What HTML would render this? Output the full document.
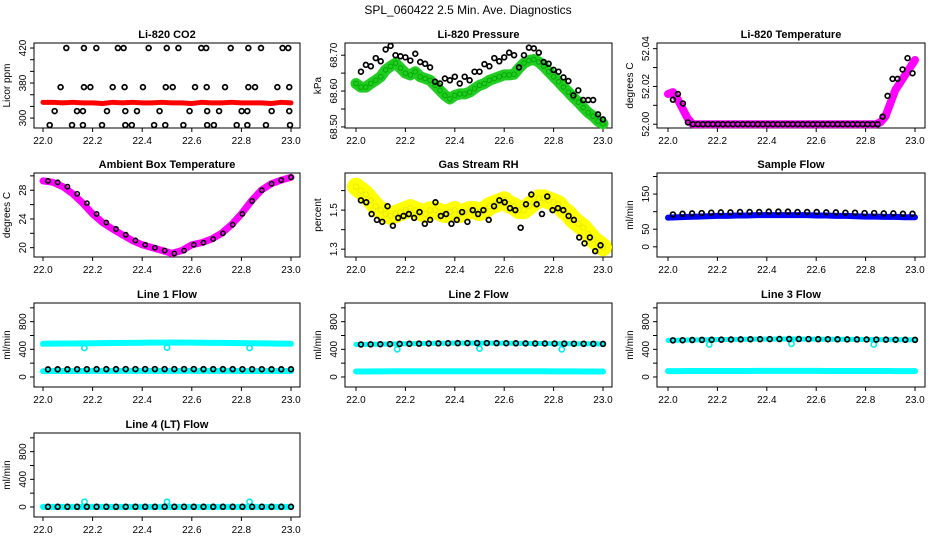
<!DOCTYPE html>
<html><head><meta charset="utf-8"><style>
body{margin:0;background:#fff}
svg{display:block;font-family:"Liberation Sans",sans-serif}
</style></head><body>
<svg id="c" width="936" height="540" viewBox="0 0 936 540">
<text x="468" y="14" text-anchor="middle" font-size="12">SPL_060422  2.5 Min. Ave. Diagnostics</text>
</svg>
<script>
// ---- data ----
const xTicks = [22.0,22.2,22.4,22.6,22.8,23.0];
const xTickLabels = ["22.0","22.2","22.4","22.6","22.8","23.0"];

const co2Times = [22.027,22.047,22.071,22.094,22.117,22.137,22.161,22.161,22.165,22.165,22.191,22.215,22.238,22.258,22.281,22.302,22.325,22.329,22.332,22.332,22.358,22.379,22.403,22.426,22.448,22.470,22.493,22.495,22.499,22.523,22.546,22.566,22.591,22.613,22.638,22.658,22.660,22.662,22.662,22.689,22.710,22.734,22.757,22.781,22.801,22.824,22.824,22.828,22.828,22.855,22.879,22.899,22.922,22.945,22.966,22.989,22.993,22.993,22.996];
const co2Black = [288,312,353,420,288,312,312,288,420,353,353,420,288,312,353,420,420,353,312,288,288,312,353,420,288,312,288,353,420,353,420,288,312,353,420,420,353,312,288,288,312,353,420,288,312,312,288,420,353,353,420,288,312,353,420,420,353,312,288];
const co2Red = [327,327,326,327,326,326,325,327,326,327,326,326,327,326,326,325,327,326,326,327,326,326,326,325,327,326];

const presGreen = [68.621,68.611,68.611,68.621,68.630,68.640,68.659,68.669,68.678,68.664,68.650,68.645,68.654,68.640,68.635,68.630,68.616,68.602,68.588,68.578,68.588,68.592,68.592,68.597,68.607,68.616,68.621,68.630,68.635,68.640,68.645,68.645,68.647,68.664,68.678,68.685,68.688,68.681,68.669,68.654,68.640,68.626,68.611,68.597,68.582,68.569,68.554,68.540,68.530,68.516,68.509];
const presBlack = [68.654,68.673,68.669,68.692,68.683,68.716,68.726,68.700,68.697,68.694,68.685,68.704,68.681,68.676,68.666,68.626,68.621,68.635,68.630,68.640,68.621,68.640,68.630,68.654,68.654,68.675,68.669,68.692,68.683,68.694,68.707,68.700,68.666,68.700,68.721,68.719,68.707,68.681,68.676,68.659,68.654,68.638,68.628,68.588,68.602,68.575,68.575,68.575,68.535,68.521];

const tempMag = [52.016,52.017,52.013,52.008,52.003,52.000,52.000,52.000,52.000,52.000,52.000,52.000,52.000,52.000,52.000,52.000,52.000,52.000,52.000,52.000,52.000,52.000,52.000,52.000,52.000,52.000,52.000,52.000,52.000,52.000,52.000,52.000,52.000,52.000,52.000,52.000,52.000,52.000,52.000,52.000,52.000,52.000,52.000,52.001,52.004,52.011,52.018,52.022,52.026,52.030,52.034];
const tempBlack = [52.013,52.016,52.011,52.001,52.000,52.000,52.000,52.000,52.000,52.000,52.000,52.000,52.000,52.000,52.000,52.000,52.000,52.000,52.000,52.000,52.000,52.000,52.000,52.000,52.000,52.000,52.000,52.000,52.000,52.000,52.000,52.000,52.000,52.000,52.000,52.000,52.000,52.000,52.000,52.000,52.000,52.000,52.004,52.015,52.024,52.024,52.029,52.035,52.027];

const ambient = [29.3,29.1,28.5,27.5,26.2,24.7,23.5,22.6,21.8,21.0,20.4,20.0,19.6,19.2,19.6,20.4,20.7,21.2,22.0,23.2,24.7,26.5,28.0,28.9,29.4,29.8];

const rhYellow = [1.62,1.60,1.58,1.55,1.52,1.50,1.48,1.47,1.48,1.49,1.50,1.51,1.50,1.49,1.48,1.50,1.50,1.49,1.48,1.49,1.50,1.48,1.49,1.50,1.50,1.49,1.50,1.52,1.53,1.54,1.55,1.53,1.52,1.50,1.50,1.52,1.54,1.56,1.56,1.55,1.54,1.53,1.50,1.48,1.45,1.43,1.41,1.38,1.35,1.33,1.31];
const rhBlack = [1.55,1.54,1.48,1.45,1.44,1.52,1.42,1.46,1.47,1.48,1.46,1.49,1.43,1.45,1.54,1.47,1.48,1.43,1.45,1.49,1.44,1.50,1.48,1.50,1.45,1.52,1.55,1.54,1.51,1.50,1.41,1.53,1.58,1.53,1.48,1.57,1.50,1.51,1.50,1.47,1.45,1.36,1.33,1.36,1.29,1.32];

const sampleBlue = [83,84,85,86,87,88,88,89,89,90,90,90,90,90,90,89,89,88,88,87,86,86,85,85,84,84];
const sampleBlack = [92,94,95,96,97,98,98,99,99,99,100,100,100,99,99,99,98,98,97,97,96,96,95,95,94,94];

const line1Hi = [480,482,484,485,486,488,490,492,493,494,495,496,497,498,497,496,495,494,493,492,490,488,486,484,482,481];
const line1Lo = [85,86,86,87,87,88,88,88,88,89,89,89,89,89,89,89,88,88,88,88,87,87,87,86,86,86];
const line1Black = [110,111,111,112,112,113,113,113,114,114,114,114,114,114,114,114,113,113,113,113,112,112,112,111,111,111];
const line2Cyan = [80,80,81,81,82,82,82,82,83,83,83,83,83,83,83,83,82,82,82,82,81,81,81,80,80,80];
const line2Black = [470,472,474,476,478,480,482,484,486,488,489,490,490,490,489,488,487,486,485,484,483,482,481,480,479,478];
const line3Cyan = [85,85,86,86,86,87,87,87,87,88,88,88,88,88,88,88,87,87,87,87,86,86,86,85,85,85];
const line3Black = [530,532,534,536,538,540,542,544,546,547,548,549,549,549,548,547,546,545,544,543,542,541,540,539,538,537];
const line4Cyan = [2,2,2,2,2,2,2,2,2,2,2,2,2,2,2,2,2,2,2,2,2,2,2,2,2,2];
const line4Black = [3,3,3,3,3,3,3,3,3,3,3,3,3,3,3,3,3,3,3,3,3,3,3,3,3,3];
const dipTimes = [22.167,22.5,22.833];
const line1Dips = [420,425,420];
const line2Dips = [400,410,400];
const line3Dips = [470,480,470];
const line4Dips = [75,75,75];

// ---- drawing ----
const svg = document.getElementById('c');
const NS = 'http://www.w3.org/2000/svg';
function mk(tag, attrs, parent){const e=document.createElementNS(NS,tag);for(const k in attrs)e.setAttribute(k,attrs[k]);(parent||svg).appendChild(e);return e;}
const cols = [{bx0:34,bx1:300,x0:43,x1:291},{bx0:345,bx1:612,x0:356,x1:603},{bx0:657,bx1:925,x0:668,x1:915}];
const rows = [{by0:43,by1:128},{by0:173,by1:257},{by0:303,by1:387},{by0:433,by1:517}];

function panel(name, col, row, title, ylab, ymin, ymax, yTicks, yLabels){
  const c=cols[col], r=rows[row];
  const g=mk('g',{});
  
  
  const sx=v=>c.x0+(v-22)/(1)*(c.x1-c.x0);
  const sy=v=>r.by1-(v-ymin)/(ymax-ymin)*(r.by1-r.by0);
  const box=mk('rect',{x:c.bx0,y:r.by0,width:c.bx1-c.bx0,height:r.by1-r.by0,fill:'none',stroke:'#000','stroke-width':1},g);
  
  
  const t=mk('text',{x:(c.bx0+c.bx1)/2,y:r.by0-5,'text-anchor':'middle','font-size':11,'font-weight':'bold'},g);
  t.textContent=title;
  
  
  const xa=mk('g',{},g);
  
  
  mk('line',{x1:c.x0,x2:c.x1,y1:r.by1,y2:r.by1,stroke:'#000'},xa);
  xTicks.forEach((v,i)=>{
    mk('line',{x1:sx(v),x2:sx(v),y1:r.by1,y2:r.by1+4,stroke:'#000'},xa);
    const l=mk('text',{x:sx(v),y:r.by1+16,'text-anchor':'middle','font-size':10},xa);
    l.textContent=xTickLabels[i];
    
    
  });
  const ya=mk('g',{},g);
  
  
  yTicks.forEach(v=>mk('line',{x1:c.bx0-4,x2:c.bx0,y1:sy(v),y2:sy(v),stroke:'#000'},ya));
  yLabels.forEach(([v,s])=>{
    const y=sy(v), x=c.bx0-8;
    const l=mk('text',{x:x,y:y,'text-anchor':'middle','font-size':10,transform:`rotate(-90 ${x} ${y})`},ya);
    l.textContent=s;
    
    
  });
  const yx=c.bx0-24, yy=(r.by0+r.by1)/2;
  const yl=mk('text',{x:yx,y:yy,'text-anchor':'middle','font-size':10,transform:`rotate(-90 ${yx} ${yy})`},g);
  yl.textContent=ylab;
  
  
  return {g,sx,sy};
}
function times(n,a,b){const o=[];for(let i=0;i<n;i++)o.push(a+(b-a)*i/(n-1));return o;}
function band(p,xs,vals,color,w){
  const pl=mk('polyline',{points:xs.map((x,i)=>p.sx(x)+','+p.sy(vals[i])).join(' '),fill:'none',stroke:color,'stroke-width':w,'stroke-linejoin':'round','stroke-linecap':'round'},p.g);
  
  
}
function pts(p,xs,vals,color,rad,sw){
  const gg=mk('g',{},p.g);
  
  
  xs.forEach((x,i)=>mk('circle',{cx:p.sx(x),cy:p.sy(vals[i]),r:rad||2.4,fill:'none',stroke:color,'stroke-width':sw||1.7},gg));
}

// CO2
let p=panel('co2-panel',0,0,'Li-820 CO2','Licor ppm',283,428.6,[300,320,340,360,380,400,420],[[300,'300'],[360,'380'],[420,'420']]);
band(p,times(co2Red.length,22,23),co2Red,'#ff0000',5);
pts(p,co2Times,co2Black,'#000');
// Pressure
p=panel('pressure-panel',1,0,'Li-820 Pressure','kPa',68.497,68.734,[68.50,68.55,68.60,68.65,68.70],[[68.50,'68.50'],[68.60,'68.60'],[68.70,'68.70']]);
band(p,times(presGreen.length,22,23),presGreen,'#22cc22',11);
pts(p,times(presGreen.length,22,23),presGreen,'#00aa00',2.3,1);
pts(p,times(presBlack.length,22.02,23.0),presBlack,'#000');
// Temperature
p=panel('temperature-panel',2,0,'Li-820 Temperature','degrees C',51.998,52.043,[52.00,52.01,52.02,52.03,52.04],[[52.00,'52.00'],[52.02,'52.02'],[52.04,'52.04']]);
band(p,times(tempMag.length,22,23),tempMag,'#ff00ff',8);
pts(p,times(tempMag.length,22,23),tempMag,'#ff00ff',2.6,1.4);
pts(p,times(tempBlack.length,22.02,22.99),tempBlack,'#000');
// Ambient
p=panel('ambient-temp-panel',0,1,'Ambient Box Temperature','degrees C',18.7,30.4,[20,22,24,26,28,30],[[20,'20'],[24,'24'],[28,'28']]);
band(p,times(ambient.length,22,23),ambient,'#ff00ff',7);
pts(p,times(ambient.length,22.02,23.0),ambient,'#000',2.2,1.5);
// RH
p=panel('rh-panel',1,1,'Gas Stream RH','percent',1.26,1.69,[1.3,1.4,1.5,1.6],[[1.3,'1.3'],[1.5,'1.5']]);
band(p,times(rhYellow.length,22,23),rhYellow,'#ffff00',18);
pts(p,times(rhYellow.length,22,23),rhYellow,'#eeee00',2.6,1.4);
pts(p,times(rhBlack.length,22.02,22.99),rhBlack,'#000');
// Sample flow
p=panel('sample-flow-panel',2,1,'Sample Flow','ml/min',-29,210,[0,50,100,150,200],[[0,'0'],[50,'50'],[150,'150']]);
band(p,times(sampleBlue.length,22,23),sampleBlue,'#0000ff',6);
pts(p,times(sampleBlack.length,22.02,22.99),sampleBlack,'#000');
// Line flows
const flowTicks=[0,200,400,600,800,1000], flowLabels=[[0,'0'],[400,'400'],[800,'800']];
p=panel('line1-flow-panel',0,2,'Line 1 Flow','ml/min',-145,1070,flowTicks,flowLabels);
band(p,times(line1Hi.length,22,23),line1Hi,'#00ffff',6);
band(p,times(line1Lo.length,22,23),line1Lo,'#00ffff',6);
pts(p,dipTimes,line1Dips,'#00eeee',2.6,1.6);
pts(p,times(line1Black.length,22.02,23.0),line1Black,'#000');
p=panel('line2-flow-panel',1,2,'Line 2 Flow','ml/min',-145,1070,flowTicks,flowLabels);
band(p,times(line2Cyan.length,22,23),line2Cyan,'#00ffff',6);
band(p,times(line2Black.length,22,23),line2Black,'#00ffff',5);
pts(p,dipTimes,line2Dips,'#00eeee',2.6,1.6);
pts(p,times(line2Black.length,22.02,23.0),line2Black,'#000');
p=panel('line3-flow-panel',2,2,'Line 3 Flow','ml/min',-145,1070,flowTicks,flowLabels);
band(p,times(line3Cyan.length,22,23),line3Cyan,'#00ffff',6);
band(p,times(line3Black.length,22,23),line3Black,'#00ffff',5);
pts(p,dipTimes,line3Dips,'#00eeee',2.6,1.6);
pts(p,times(line3Black.length,22.02,23.0),line3Black,'#000');
p=panel('line4-flow-panel',0,3,'Line 4 (LT) Flow','ml/min',-145,1070,flowTicks,flowLabels);
band(p,times(line4Cyan.length,22,23),line4Cyan,'#00ffff',6);
pts(p,dipTimes,line4Dips,'#00eeee',2.6,1.6);
pts(p,times(line4Black.length,22.02,23.0),line4Black,'#000');
</script>
</body></html>
